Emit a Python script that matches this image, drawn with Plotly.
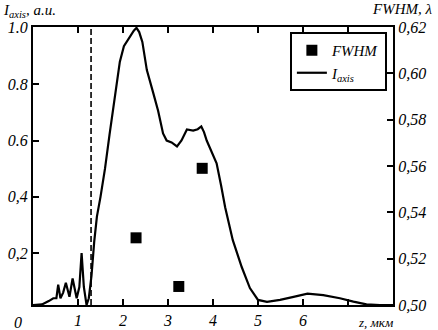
import plotly.graph_objects as go

# ---- data ----
z_um = [0.0, 0.2, 0.35, 0.45, 0.52, 0.56, 0.61, 0.67, 0.73, 0.81, 0.88, 0.97, 1.03, 1.08,
        1.13, 1.19, 1.24, 1.30, 1.36, 1.42, 1.50, 1.60, 1.70, 1.78, 1.86, 1.93, 2.02, 2.10,
        2.18, 2.24, 2.30, 2.36, 2.43, 2.53, 2.67, 2.78, 2.89, 2.97, 3.08, 3.20, 3.30, 3.42,
        3.56, 3.66, 3.74, 3.80, 3.86, 3.97, 4.08, 4.18, 4.27, 4.44, 4.64, 4.82, 5.00, 5.20,
        5.49, 5.79, 6.10, 6.45, 6.82, 7.12, 7.41, 7.71, 8.00]
i_axis = [0.016, 0.018, 0.030, 0.040, 0.040, 0.088, 0.040, 0.060, 0.095, 0.045, 0.110, 0.040,
          0.080, 0.200, 0.080, 0.016, 0.040, 0.120, 0.240, 0.330, 0.400, 0.500, 0.620, 0.710,
          0.800, 0.880, 0.935, 0.955, 0.975, 0.990, 1.000, 0.985, 0.950, 0.850, 0.770, 0.706,
          0.625, 0.600, 0.593, 0.579, 0.600, 0.639, 0.635, 0.640, 0.650, 0.630, 0.600, 0.557,
          0.519, 0.440, 0.363, 0.246, 0.150, 0.076, 0.034, 0.027, 0.034, 0.045, 0.056, 0.051,
          0.040, 0.028, 0.018, 0.016, 0.016]

fwhm_z = [2.29, 3.24, 3.76]
fwhm_val = [0.529, 0.508, 0.559]

dash_z = 1.29

x_tickvals = [1, 2, 3, 4, 5, 6, 7]
x_ticktext = ["1", "2", "3", "4", "5", "6", ""]
y_tickvals = [0.2, 0.4, 0.6, 0.8, 1.0]
y_ticktext = ["0,2", "0,4", "0.6", "0.8", "1.0"]
y2_tickvals = [0.50, 0.52, 0.54, 0.56, 0.58, 0.60, 0.62]
y2_ticktext = ["0,50", "0,52", "0,54", "0,56", "0,58", "0,60", "0,62"]

FONT = "Liberation Serif"

fig = go.Figure()
fig.add_trace(go.Scatter(x=fwhm_z, y=fwhm_val, mode="markers", name="FWHM", yaxis="y2",
                         marker=dict(symbol="square", size=11, color="black")))
fig.add_trace(go.Scatter(x=z_um, y=i_axis, mode="lines", name="I<sub>axis</sub>",
                         line=dict(color="black", width=2.2)))

fig.add_shape(type="line", xref="x", yref="paper", x0=dash_z, x1=dash_z, y0=0, y1=1,
              line=dict(color="black", width=1.6, dash="6px,3px"))

axis_common = dict(showline=True, linewidth=2, linecolor="black", ticks="inside",
                   ticklen=6, tickwidth=1.6, tickcolor="black", showgrid=False,
                   zeroline=False, automargin=False)

fig.update_layout(
    width=438, height=330,
    margin=dict(l=33, r=45, t=27, b=25, autoexpand=False),
    paper_bgcolor="white", plot_bgcolor="white",
    font=dict(family=FONT, size=16, color="black", style="italic"),
    showlegend=True,
    legend=dict(x=0.983, y=0.982, xanchor="right", yanchor="top",
                bordercolor="black", borderwidth=2, bgcolor="white",
                font=dict(family=FONT, size=15, style="italic"),
                itemwidth=30, tracegroupgap=0),
    xaxis=dict(range=[0, 8], tickvals=x_tickvals, ticktext=x_ticktext, mirror="ticks",
               **axis_common),
    yaxis=dict(range=[0.016, 1.003], tickvals=y_tickvals, ticktext=y_ticktext,
               **axis_common),
    yaxis2=dict(range=[0.50, 0.62], tickvals=y2_tickvals, ticktext=y2_ticktext,
                overlaying="y", side="right", **axis_common),
    annotations=[
        dict(text="I<sub>axis</sub>, a.u.", xref="paper", yref="paper",
             x=-0.09, y=1.058, xanchor="left", yanchor="middle", showarrow=False,
             font=dict(family=FONT, size=15, style="italic")),
        dict(text="FWHM, λ", xref="paper", yref="paper",
             x=1.114, y=1.065, xanchor="right", yanchor="middle", showarrow=False,
             font=dict(family=FONT, size=15, style="italic")),
        dict(text="z, мкм", xref="paper", yref="paper",
             x=0.95, y=-0.062, xanchor="center", yanchor="middle", showarrow=False,
             font=dict(family=FONT, size=13, style="italic")),
        dict(text="0", xref="paper", yref="paper",
             x=-0.042, y=-0.062, xanchor="center", yanchor="middle", showarrow=False,
             font=dict(family=FONT, size=16, style="italic")),
    ],
)

fig.write_html("out.html", config={"displayModeBar": False},
               post_script="document.body.style.margin='0';document.body.style.padding='0';")
